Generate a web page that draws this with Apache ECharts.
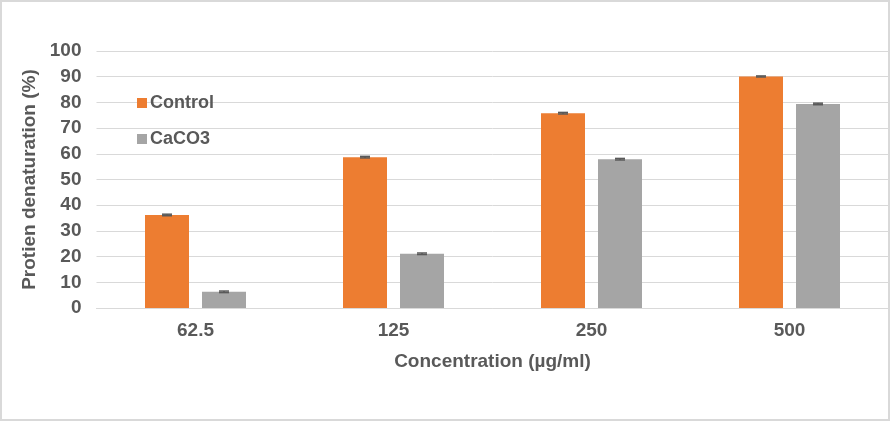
<!DOCTYPE html>
<html><head><meta charset="utf-8">
<script src="https://cdn.jsdelivr.net/npm/echarts@6/dist/echarts.min.js"></script>
<style>html,body{margin:0;padding:0;background:#fff}#c{width:891px;height:422px}</style>
</head><body><div id="c"></div>
<script>
const categories = ['62.5', '125', '250', '500'];
const controlValues = [36.2, 58.7, 75.8, 90.1];
const caco3Values = [6.3, 21.1, 57.9, 79.4];
const controlErr = [0.3, 0.3, 0.3, 0.2];
const caco3Err = [0.3, 0.3, 0.3, 0.3];
const yTicks = [0, 10, 20, 30, 40, 50, 60, 70, 80, 90, 100];

const BAR_W = 44, BAR_GAP = 13;
function errSeries(vals, errs, sign) {
  return {
    type: 'custom', z: 5,
    data: vals.map((v, i) => [i, v, errs[i]]),
    renderItem: function (params, api) {
      const i = api.value(0), v = api.value(1), e = api.value(2);
      const hi = api.coord([i, v + e]);
      const lo = api.coord([i, v - e]);
      const x = hi[0] + sign * (BAR_W + BAR_GAP) / 2;
      const half = 5;
      const st = { stroke: '#595959', lineWidth: 1.5 };
      return { type: 'group', children: [
        { type: 'line', shape: { x1: x, y1: hi[1], x2: x, y2: lo[1] }, style: st },
        { type: 'line', shape: { x1: x - half, y1: hi[1], x2: x + half, y2: hi[1] }, style: st },
        { type: 'line', shape: { x1: x - half, y1: lo[1], x2: x + half, y2: lo[1] }, style: st }
      ]};
    },
    silent: true, tooltip: { show: false }
  };
}

const chart = echarts.init(document.getElementById('c'));
const font = 'Liberation Sans, Arial, sans-serif';
chart.setOption({
  animation: false,
  textStyle: { fontFamily: font },
  graphic: [{ type: 'rect', shape: { x: 1, y: 1, width: 888, height: 419 }, style: { fill: 'none', stroke: '#d9d9d9', lineWidth: 2 }, silent: true, z: 100 }],
  grid: { left: 96.5, right: 2.5, top: 51, bottom: 114 },
  legend: {
    orient: 'vertical', left: 132, top: 89, itemWidth: 10, itemHeight: 10, itemGap: 18, icon: 'rect',
    textStyle: { fontSize: 18, fontWeight: 'bold', color: '#595959', fontFamily: font, padding: [0, 0, 0, -2] },
    data: ['Control', 'CaCO3']
  },
  xAxis: {
    type: 'category', data: categories,
    name: 'Concentration (µg/ml)', nameLocation: 'middle', nameGap: 44,
    nameTextStyle: { fontSize: 19, fontWeight: 'bold', color: '#595959', fontFamily: font },
    axisLine: { lineStyle: { color: '#d9d9d9', width: 1 } },
    axisTick: { show: false },
    axisLabel: { fontSize: 19, fontWeight: 'bold', color: '#595959', margin: 13, fontFamily: font }
  },
  yAxis: {
    type: 'value', min: 0, max: 100, interval: 10,
    name: 'Protien denaturation (%)', nameLocation: 'middle', nameGap: 50,
    nameTextStyle: { fontSize: 19, fontWeight: 'bold', color: '#595959', fontFamily: font },
    axisLine: { show: false }, axisTick: { show: false },
    splitLine: { lineStyle: { color: '#d9d9d9', width: 1 } },
    axisLabel: { fontSize: 19, fontWeight: 'bold', color: '#595959', margin: 15, fontFamily: font,
      formatter: v => yTicks.includes(v) ? String(v) : '' }
  },
  series: [
    { name: 'Control', type: 'bar', data: controlValues, barWidth: BAR_W, barGap: (BAR_GAP / BAR_W * 100) + '%', itemStyle: { color: '#ED7D31' } },
    { name: 'CaCO3', type: 'bar', data: caco3Values, barWidth: BAR_W, itemStyle: { color: '#A5A5A5' } },
    errSeries(controlValues, controlErr, -1),
    errSeries(caco3Values, caco3Err, 1)
  ]
});
</script></body></html>
